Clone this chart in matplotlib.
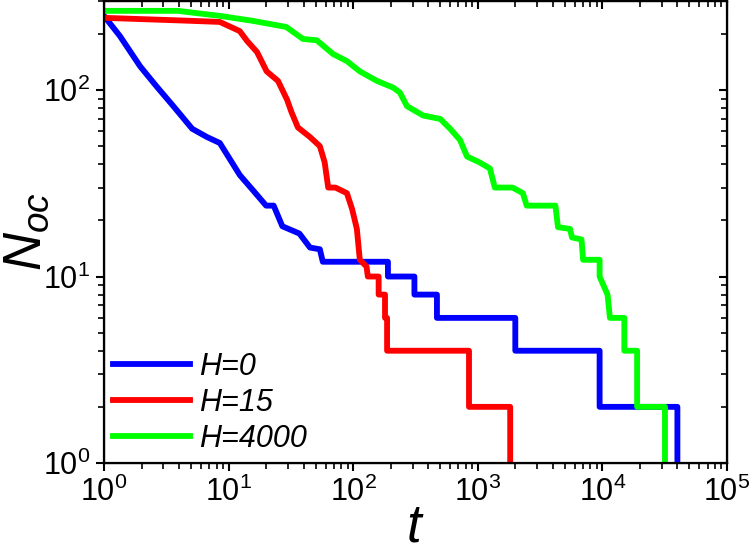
import matplotlib
matplotlib.use("Agg")
import matplotlib.pyplot as plt

plt.rcParams['font.family'] = ['Liberation Sans', 'DejaVu Sans']
plt.rcParams['mathtext.fontset'] = 'custom'
plt.rcParams['mathtext.rm'] = 'Liberation Sans'
plt.rcParams['mathtext.it'] = 'Liberation Sans:italic'

# H=0
t_h0 = [1, 1.34, 1.95, 2.66, 3.6, 5.1, 6.7, 8.5, 12.3, 15.7, 20, 23, 27, 37, 45, 54, 57,
        190, 190, 310, 310, 470, 470, 2000, 2000, 9500, 9500, 40000, 40000]
n_h0 = [250, 195, 134, 104, 82, 62, 56, 52, 35, 29, 24, 24, 18.6, 17, 14.3, 14, 12,
        12, 10, 10, 8, 8, 6, 6, 4, 4, 2, 2, 1]

# H=15
t_h15 = [1, 4.3, 8.5, 12.3, 14.1, 16.9, 20.2, 24.9, 29.4, 32, 36, 45, 54, 59, 63, 72, 89,
         98, 107, 113, 128, 131, 160, 160, 180, 180, 187, 187, 850, 850, 1820, 1820]
n_h15 = [244, 236, 232, 207, 183, 160, 126, 112, 89, 76, 63, 56, 50, 41, 30, 30, 28,
         23, 18, 12.3, 11.3, 10, 10, 8, 8, 6, 6, 4, 4, 2, 2, 1]

# H=4000
t_h4000 = [1, 3.9, 8.5, 15.7, 29, 39.5, 51, 69, 89, 113, 155, 210, 237, 270, 365, 500, 600,
           720, 820, 1030, 1250, 1370, 1900, 2300, 2470, 4200, 4400, 5500, 5700, 6800, 7000,
           9500, 9500, 11000, 11500, 15000, 15000, 19000, 19000, 31800, 31800]
n_h4000 = [266, 266, 250, 235, 218, 188, 185, 156, 143, 126, 112, 103, 97, 82, 73, 70, 62,
           54, 44, 41, 38, 30, 30, 28, 24, 24, 18.4, 18, 16.2, 15.8, 12.3,
           12.3, 10, 8, 6, 6, 4, 4, 2, 2, 1]

labels = ['H=0', 'H=15', 'H=4000']
colors = ['#0000ff', '#ff0000', '#00ff00']

fig = plt.figure(figsize=(7.5, 5.55), dpi=100)
ax = fig.add_axes([0.1387, 0.1658, 0.8306, 0.8322])

lw = 4.2
ax.plot(t_h0, n_h0, color=colors[0], lw=lw, label=labels[0])
ax.plot(t_h15, n_h15, color=colors[1], lw=lw, label=labels[1])
ax.plot(t_h4000, n_h4000, color=colors[2], lw=lw, label=labels[2])

ax.set_xscale('log')
ax.set_yscale('log')
ax.set_xlim(1, 1e5)
ax.set_ylim(1, 300)

for s in ax.spines.values():
    s.set_linewidth(1.6)

ax.tick_params(which='major', direction='out', length=6, width=1.5, labelsize=22, pad=4)
ax.tick_params(which='minor', direction='out', length=4, width=1.2)

# mirrored ticks on top and right, pointing inward
axt = ax.twiny()
axt.set_xscale('log')
axt.set_xlim(ax.get_xlim())
axt.tick_params(which='major', direction='in', length=6, width=1.5, labeltop=False)
axt.tick_params(which='minor', direction='in', length=4, width=1.2)
axr = ax.twinx()
axr.set_yscale('log')
axr.set_ylim(ax.get_ylim())
axr.tick_params(which='major', direction='in', length=6, width=1.5, labelright=False)
axr.tick_params(which='minor', direction='in', length=4, width=1.2)

ax.set_xlabel('$t$', fontsize=38, labelpad=-4)
ax.set_ylabel('$N_{oc}$', fontsize=38, labelpad=-6)

leg = ax.legend(loc='lower left', frameon=False, handlelength=2.5, handletextpad=0.3,
                labelspacing=0.2, borderaxespad=0.1, borderpad=0.2,
                prop={'size': 22, 'style': 'italic'})

fig.savefig('out.png', dpi=100)
